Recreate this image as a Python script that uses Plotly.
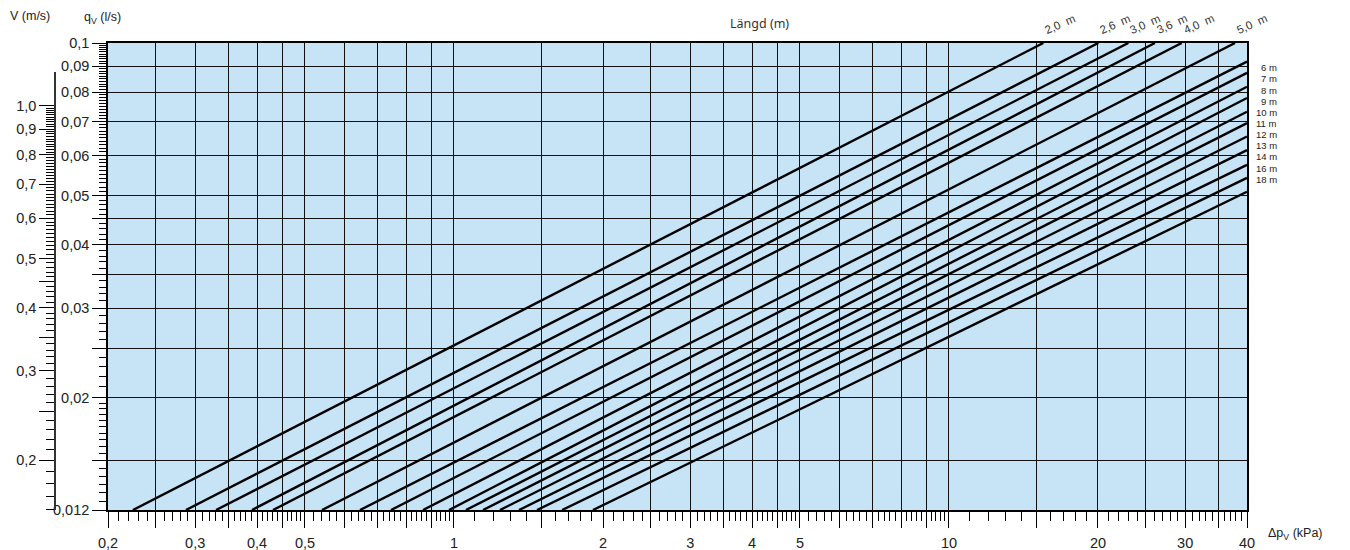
import math
import plotly.graph_objects as go

# ---------------- data ----------------
LINE_LABELS = ["2,0\u00a0\u00a0m", "2,6\u00a0\u00a0m", "3,0\u00a0\u00a0m", "3,6\u00a0\u00a0m", "4,0\u00a0\u00a0m", "5,0\u00a0\u00a0m",
               "6 m", "7 m", "8 m", "9 m", "10 m", "11 m", "12 m", "13 m", "14 m", "16 m", "18 m"]
LINE_LENGTHS_M = [2.0, 2.6, 3.0, 3.6, 4.0, 5.0, 6, 7, 8, 9, 10, 11, 12, 13, 14, 16, 18]
Q_START = 0.012   # every line starts on the bottom edge
DP_START = [0.2246, 0.2874, 0.3306, 0.3908, 0.4309, 0.5412, 0.6458, 0.7461, 0.8659,
            0.9772, 1.0572, 1.1444, 1.2384, 1.3534, 1.4716, 1.6536, 1.9087]
DP_END = [15.51, 20.03, 23.03, 26.06, 29.52, 37.83,
          40, 40, 40, 40, 40, 40, 40, 40, 40, 40, 40]
Q_END = [0.1, 0.1, 0.1, 0.1, 0.1, 0.1,
         0.0919, 0.0873, 0.0820, 0.0779, 0.0732, 0.0695, 0.0654, 0.0615, 0.0575, 0.0542, 0.0509]

X_GRID = [0.2, 0.25, 0.3, 0.35, 0.4, 0.45, 0.5, 0.6, 0.7, 0.8, 0.9, 1, 1.5, 2, 2.5, 3, 3.5,
          4, 4.5, 5, 6, 7, 8, 9, 10, 15, 20, 25, 30, 35, 40]
X_LABELS = {0.2: "0,2", 0.3: "0,3", 0.4: "0,4", 0.5: "0,5", 1: "1", 2: "2", 3: "3", 4: "4",
            5: "5", 10: "10", 20: "20", 30: "30", 40: "40"}

Q_GRID = [0.012, 0.015, 0.02, 0.025, 0.03, 0.035, 0.04, 0.045, 0.05, 0.06, 0.07, 0.08, 0.09, 0.1]
Q_LABELS = {0.012: "0,012", 0.02: "0,02", 0.03: "0,03", 0.04: "0,04", 0.05: "0,05",
            0.06: "0,06", 0.07: "0,07", 0.08: "0,08", 0.09: "0,09", 0.1: "0,1"}

V_MAJOR = [0.2, 0.25, 0.3, 0.35, 0.4, 0.45, 0.5, 0.6, 0.7, 0.8, 0.9, 1.0]
V_LABELS = {0.2: "0,2", 0.3: "0,3", 0.4: "0,4", 0.5: "0,5", 0.6: "0,6", 0.7: "0,7",
            0.8: "0,8", 0.9: "0,9", 1.0: "1,0"}
V_PER_Q = 13.3   # V (m/s) = V_PER_Q * q (l/s)

RIGHT_LABELS = LINE_LABELS[6:]
TOP_LABELS = LINE_LABELS[:6]

# ---------------- layout helpers ----------------
W, H = 1350, 550
BODY = 8                      # default page margin of the html body
PLOT_L, PLOT_R, PLOT_T, PLOT_B = 108, 1247, 43, 510
ML = 20
PAPER_W = PLOT_R - ML
PAPER_H = PLOT_B - PLOT_T
MARGIN = dict(l=ML - BODY, r=W - PLOT_R + BODY, t=PLOT_T - BODY, b=H - PLOT_B + BODY, pad=0)


def paper_x(px):
    return (px - ML) / PAPER_W


def paper_y(py):
    return (PLOT_B - py) / PAPER_H


def subdivide(grid, n):
    out = []
    for a, b in zip(grid[:-1], grid[1:]):
        step = (b - a) / n
        out += [round(a + step * k, 6) for k in range(1, n)]
    return out


x_minor = subdivide(X_GRID, 5)
q_minor = []
v = 0.0125
while v < 0.02 - 1e-9:
    if all(abs(v - g) > 1e-9 for g in Q_GRID):
        q_minor.append(round(v, 5))
    v += 0.0005
v = 0.021
while v < 0.1 - 1e-9:
    if all(abs(v - g) > 1e-9 for g in Q_GRID):
        q_minor.append(round(v, 4))
    v += 0.001
v_minor = [round(0.16 + 0.01 * k, 2) for k in range(0, 84)]
v_minor = [t for t in v_minor if all(abs(t - m) > 1e-9 for m in V_MAJOR)]

FONT = "Liberation Sans, Arial, sans-serif"
TXT = "#222222"
BG = "#C6E4F6"
TICK_FS = 14.5

fig = go.Figure()
for i in range(len(LINE_LENGTHS_M)):
    fig.add_trace(go.Scatter(
        x=[DP_START[i], DP_END[i]], y=[Q_START, Q_END[i]],
        mode="lines", line=dict(color="black", width=2.4),
        name=LINE_LABELS[i], showlegend=False, hoverinfo="skip"))

# dummy trace so the velocity axis is drawn
fig.add_trace(go.Scatter(x=[None], y=[None], yaxis="y2", showlegend=False, hoverinfo="skip"))

v_top_frac = paper_y(72)
v_lo = math.log10(V_PER_Q * Q_START)
v_hi = v_lo + v_top_frac * math.log10(0.1 / Q_START)

fig.update_layout(
    template="none",
    width=W, height=H,
    margin=MARGIN,
    paper_bgcolor="white",
    plot_bgcolor="rgba(0,0,0,0)",
    showlegend=False,
    font=dict(family=FONT, size=13, color=TXT),
    xaxis=dict(
        type="log", range=[math.log10(0.2), math.log10(40)],
        domain=[paper_x(PLOT_L), 1], automargin=False,
        tickmode="array", tickvals=X_GRID,
        ticktext=[X_LABELS.get(t, "") for t in X_GRID],
        ticks="outside", ticklen=16, tickwidth=1.3, tickcolor="black",
        tickfont=dict(family=FONT, size=TICK_FS, color=TXT), tickangle=0,
        ticklabelstandoff=3,
        showgrid=True, gridcolor="#111111", gridwidth=1.3,
        showline=True, linecolor="black", linewidth=1.6, mirror=True,
        zeroline=False,
        minor=dict(tickmode="array", tickvals=x_minor, ticks="outside", ticklen=9,
                   tickwidth=1.2, tickcolor="black", showgrid=False),
    ),
    yaxis=dict(
        type="log", range=[math.log10(Q_START), math.log10(0.1)],
        domain=[0, 1], automargin=False,
        tickmode="array", tickvals=Q_GRID,
        ticktext=[Q_LABELS.get(t, "") for t in Q_GRID],
        ticks="outside", ticklen=14, tickwidth=1.3, tickcolor="black",
        tickfont=dict(family=FONT, size=TICK_FS, color=TXT),
        showgrid=True, gridcolor="#111111", gridwidth=1.3,
        showline=True, linecolor="black", linewidth=1.6, mirror=True,
        zeroline=False,
        minor=dict(tickmode="array", tickvals=q_minor, ticks="outside", ticklen=7,
                   tickwidth=1.2, tickcolor="black", showgrid=False),
    ),
    yaxis2=dict(
        type="log", range=[v_lo, v_hi], domain=[0, v_top_frac],
        anchor="free", position=paper_x(55), side="left", automargin=False,
        tickmode="array", tickvals=V_MAJOR,
        ticktext=[V_LABELS.get(t, "") for t in V_MAJOR],
        ticks="outside", ticklen=15, tickwidth=1.3, tickcolor="black",
        tickfont=dict(family=FONT, size=TICK_FS, color=TXT),
        showgrid=False, showline=True, linecolor="#333333", linewidth=1.6,
        zeroline=False,
        minor=dict(tickmode="array", tickvals=v_minor, ticks="outside", ticklen=8,
                   tickwidth=1.2, tickcolor="black", showgrid=False),
    ),
    shapes=[dict(type="rect", xref="x domain", yref="y domain", x0=0, x1=1, y0=0, y1=1,
                 fillcolor=BG, line=dict(width=0), layer="below")],
)

ann = []
# axis titles
ann.append(dict(text="V (m/s)", x=paper_x(8), y=paper_y(16), xref="paper", yref="paper",
                xanchor="left", yanchor="middle", showarrow=False,
                font=dict(family=FONT, size=12.5, color=TXT)))
ann.append(dict(text="q<sub>V</sub> (l/s)", x=paper_x(82), y=paper_y(18), xref="paper", yref="paper",
                xanchor="left", yanchor="middle", showarrow=False,
                font=dict(family=FONT, size=12.5, color=TXT)))
ann.append(dict(text="\u0394p<sub>V</sub> (kPa)", x=paper_x(1266), y=paper_y(534), xref="paper", yref="paper",
                xanchor="left", yanchor="middle", showarrow=False,
                font=dict(family=FONT, size=12.5, color=TXT)))
ann.append(dict(text="Längd (m)", x=paper_x(759), y=paper_y(24), xref="paper", yref="paper",
                xanchor="center", yanchor="middle", showarrow=False,
                font=dict(family="Noto Sans, Open Sans, sans-serif", size=12.5, color="#333333")))

# length labels above the top edge (lines that exit at the top)
for i, lab in enumerate(TOP_LABELS):
    ann.append(dict(text=lab, x=math.log10(DP_END[i]), y=1, xref="x", yref="paper",
                    xshift=17, yshift=19, textangle=-24, showarrow=False,
                    xanchor="center", yanchor="middle",
                    font=dict(family=FONT, size=11.5, color="#333333")))

# length labels on the right (lines that exit at the right edge)
for j, lab in enumerate(RIGHT_LABELS):
    ann.append(dict(text=lab, x=paper_x(1279), y=paper_y(67.7 + 11.16 * j), xref="paper", yref="paper",
                    xanchor="right", yanchor="middle", showarrow=False,
                    font=dict(family=FONT, size=9.5, color=TXT)))

fig.update_layout(annotations=ann)
fig.write_html("out.html")
